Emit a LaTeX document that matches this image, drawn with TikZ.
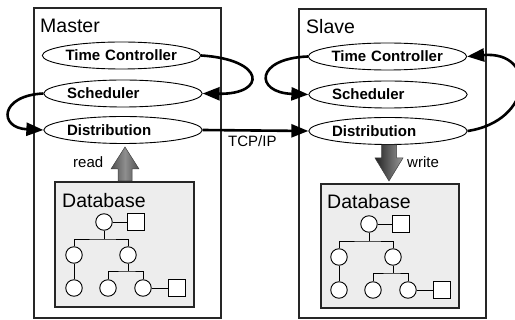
\documentclass[tikz,border=0pt]{standalone}
\usepackage{fontspec}
\setmainfont{Liberation Sans}
\usetikzlibrary{shapes.geometric,arrows.meta,calc}

\definecolor{boxline}{HTML}{262626}
\definecolor{dbfill}{HTML}{EDEDED}
\definecolor{blockedge}{HTML}{505050}
\definecolor{blockmid}{HTML}{8E8E8E}
\definecolor{blockdark}{HTML}{222222}
\definecolor{blocklight}{HTML}{9A9A9A}

\tikzset{
  unit/.style={draw=boxline, line width=1.1pt},
  module/.style={ellipse, draw=black, line width=0.9pt, fill=white,
    minimum width=157pt, minimum height=27pt, inner sep=0pt,
    text width=112pt, align=left,
    font=\bfseries\fontsize{15}{18}\selectfont},
  title/.style={anchor=base west, inner sep=0pt, font=\fontsize{19.5}{22}\selectfont},
  small/.style={anchor=base west, inner sep=0pt, font=\fontsize{15}{18}\selectfont},
  flow/.style={line width=2.6pt, -{Triangle[length=17pt,width=13pt]}},
  rec/.style={circle, draw=black, line width=0.9pt, fill=white, minimum size=16.5pt, inner sep=0pt},
  leafbox/.style={rectangle, draw=black, line width=0.9pt, fill=white, minimum size=16.5pt, inner sep=0pt},
  link/.style={line width=0.9pt},
  pics/dbtree/.style={code={
    \node[rec] (-r) at (0,0) {};
    \node[leafbox] (-s) at (32,0) {};
    \node[rec] (-c1) at (-30,33) {};
    \node[rec] (-c2) at (24,33) {};
    \node[rec] (-l1) at (-30,66) {};
    \node[rec] (-l2) at (4,66) {};
    \node[rec] (-l3) at (39,66) {};
    \node[leafbox] (-s2) at (73,66) {};
    \coordinate (-b1) at (0,17);
    \coordinate (-b2) at (24,49);
    \draw[link] (-r) -- (-s);
    \draw[link] (-r.south) -- (-b1);
    \draw[link] (-c1.north) |- (-b1) -| (-c2.north);
    \draw[link] (-c1) -- (-l1);
    \draw[link] (-c2.south) -- (-b2);
    \draw[link] (-l2.north) |- (-b2) -| (-l3.north);
    \draw[link] (-l3) -- (-s2);
  }}
}

\begin{document}
\begin{tikzpicture}[x=1pt, y=-1pt]
\useasboundingbox (0,0) rectangle (515,320);

% Master side
\draw[unit] (34,8) rectangle (221,318);
\node[title] (mlabel) at (40,33) {Master};
\node[module] (mtc) at (121.5,55.5) {Time Controller};
\node[module] (msch) at (123,93.5) {Scheduler};
\node[module] (mdist) at (123,130) {Distribution};
\draw[unit, fill=dbfill] (55,182) rectangle (194,307);
\node[title] (mdb) at (62,208) {Database};
\pic (mt) at (104,222) {dbtree};

% Slave side
\draw[unit] (299,9) rectangle (486,318);
\node[title] (slabel) at (306,34) {Slave};
\node[module] (stc) at (387.5,56.5) {Time Controller};
\node[module] (ssch) at (388,94.5) {Scheduler};
\node[module] (sdist) at (388,131) {Distribution};
\draw[unit, fill=dbfill] (321,184) rectangle (459,308);
\node[title] (sdb) at (327,209) {Database};
\pic (st) at (369,224) {dbtree};

% control flow inside each unit
\draw[flow] (mtc.east) .. controls +(65,4) and +(64,1) .. (msch.east);
\draw[flow] (msch.west) .. controls +(-44,2) and +(-45,-2) .. (mdist.west);
\draw[flow] (stc.west) .. controls +(-53,2) and +(-54,-2) .. (ssch.west);
\draw[flow] (sdist.east) .. controls +(66,-10) and +(70,-6) .. (stc.east);

% network link
\draw[flow] (mdist.east) -- (sdist.west);
\node[small] (tcp) at (228,147) {TCP/IP};

% read / write block arrows
\shade[left color=blockedge, right color=blockedge, middle color=blockmid, draw=black!75, line width=0.5pt]
  (125,147) -- (139,169) -- (132,169) -- (132,181) -- (118,181) -- (118,169) -- (111,169) -- cycle;
\node[small] (rd) at (73,168) {read};
\shade[left color=blockdark, right color=blocklight, draw=black!75, line width=0.5pt]
  (381.5,145) -- (396.5,145) -- (396.5,158) -- (403,158) -- (389,181) -- (375,158) -- (381.5,158) -- cycle;
\node[small] (wr) at (407,168) {write};
\end{tikzpicture}
\end{document}
